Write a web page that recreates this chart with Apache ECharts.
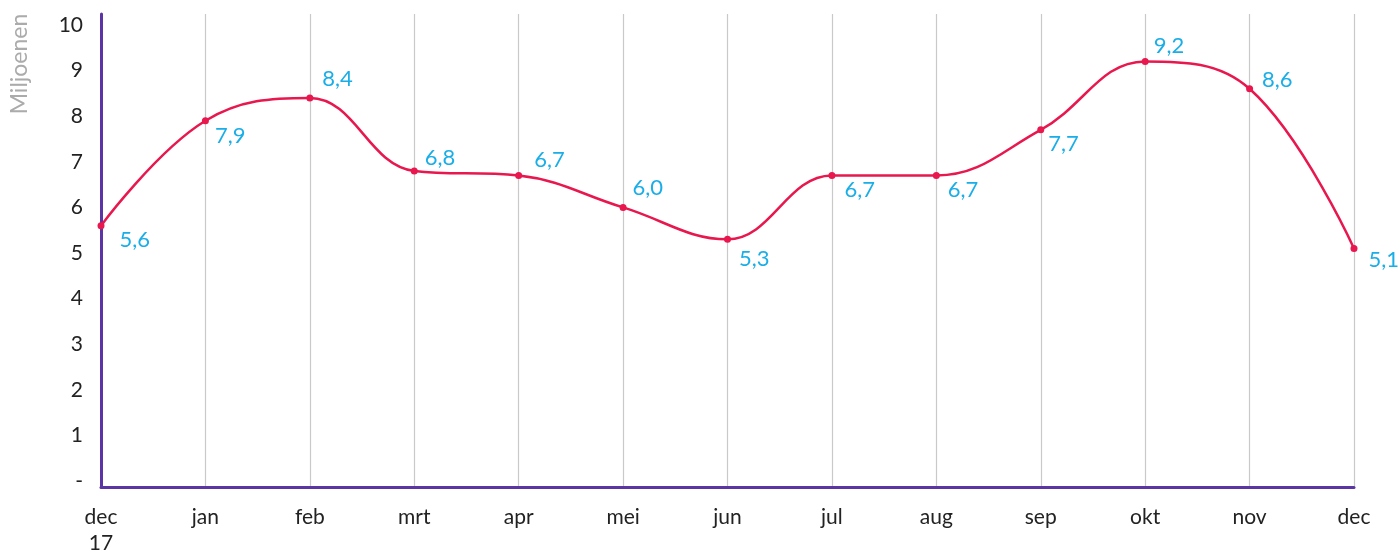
<!DOCTYPE html>
<html>
<head>
<meta charset="utf-8">
<script src="https://cdn.jsdelivr.net/npm/echarts@6/dist/echarts.min.js"></script>
<style>
html,body{margin:0;padding:0;background:#fff;}
#chart{width:1398px;height:552px;}
</style>
</head>
<body>
<div id="chart"></div>
<script>
const categories = ['dec\n17','jan','feb','mrt','apr','mei','jun','jul','aug','sep','okt','nov','dec'];
const values = [5.6, 7.9, 8.4, 6.8, 6.7, 6.0, 5.3, 6.7, 6.7, 7.7, 9.2, 8.6, 5.1];
const yTickValues = [0,1,2,3,4,5,6,7,8,9,10];
const yAxisTitle = 'Miljoenen';

// label placement (style only): offset from point [dx, dy]
const labelOffsets = [[18,14],[9,15],[12,-19],[10,-13],[15,-16],[9,-19],[11,20],[12,14],[11,14],[7,14],[8,-16],[12,-9],[14,11]];

const FONT = 'Lato';
const chart = echarts.init(document.getElementById('chart'), null, {renderer:'canvas'});
const seriesData = values.map((v,i)=>({
  value: v,
  label: {offset: [labelOffsets[i][0]-3, labelOffsets[i][1]]}
}));
chart.setOption({
  animation:false,
  grid:{left:101,right:44,top:14,bottom:65,containLabel:false,outerBoundsMode:'none'},
  graphic:[{
    type:'text', x:20, y:64, rotation:Math.PI/2,
    style:{text:yAxisTitle, fill:'#ababab', font:'23px '+FONT, textAlign:'center', textVerticalAlign:'middle'}
  }],
  xAxis:{
    type:'category', data:categories, boundaryGap:false,
    axisLine:{show:true, onZero:false, lineStyle:{color:'#5b35a3', width:3}},
    axisTick:{show:false},
    axisLabel:{color:'#222', fontFamily:FONT, fontSize:21, margin:17, lineHeight:26},
    splitLine:{show:true, lineStyle:{color:'#c9c9c9', width:1.2}}
  },
  yAxis:{
    type:'value', min:-0.13, max:10.24,
    axisLine:{show:true, onZero:false, lineStyle:{color:'#5b35a3', width:3}},
    axisTick:{show:false},
    splitLine:{show:false},
    axisLabel:{
      customValues: yTickValues,
      color:'#222', fontFamily:FONT, fontSize:21, margin:18,
      formatter:(v)=> v===0 ? '-' : String(v)
    }
  },
  series:[{
    type:'line', data:seriesData, smooth:0.4,
    symbol:'circle', symbolSize:7,
    itemStyle:{color:'#e8174e'},
    lineStyle:{color:'#e8174e', width:2.5},
    label:{show:true, position:'right', distance:0, color:'#1aaee8', fontFamily:FONT, fontSize:22,
      formatter:(p)=> p.value.toFixed(1).replace('.',',')},
    z:5
  }]
});
</script>
</body>
</html>
